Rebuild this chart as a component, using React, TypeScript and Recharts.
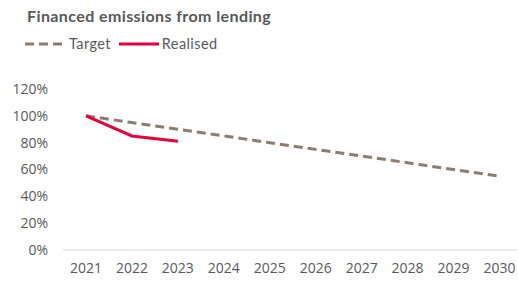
import { LineChart, Line, XAxis, YAxis } from "recharts"

const years = [2021, 2022, 2023, 2024, 2025, 2026, 2027, 2028, 2029, 2030]
const target = [100, 95, 90, 85, 80, 75, 70, 65, 60, 55]
const realised = [100, 85, 81]
const yTicks = [0, 20, 40, 60, 80, 100, 120]

const chartData = years.map((year, i) => ({
  year,
  target: target[i],
  realised: realised[i],
}))

const GREY = "#8b7d74"
const RED = "#e4003a"
const TEXT = "#595959"

export default function App() {
  return (
    <div
      style={{
        position: "absolute",
        left: 0,
        top: 0,
        width: 518,
        height: 282,
        background: "#fff",
        fontFamily: "Lato, sans-serif",
      }}
    >
      <div
        style={{
          position: "absolute",
          left: 27,
          top: 6,
          fontSize: 16,
          fontWeight: 700,
          letterSpacing: 0.4,
          color: TEXT,
          whiteSpace: "nowrap",
        }}
      >
        Financed emissions from lending
      </div>

      <div
        style={{
          position: "absolute",
          left: 25,
          top: 35,
          display: "flex",
          alignItems: "center",
          fontSize: 14.5,
          letterSpacing: 0.4,
          color: TEXT,
          whiteSpace: "nowrap",
        }}
      >
        <svg width={38} height={6}>
          <line x1={0} y1={3} x2={38} y2={3} stroke={GREY} strokeWidth={3} strokeDasharray="9 5" />
        </svg>
        <span style={{ marginLeft: 6 }}>Target</span>
        <svg width={40} height={6} style={{ marginLeft: 8 }}>
          <line x1={0} y1={3} x2={40} y2={3} stroke={RED} strokeWidth={3} />
        </svg>
        <span style={{ marginLeft: 3 }}>Realised</span>
      </div>

      <div style={{ position: "absolute", left: 0, top: 0 }}>
        <LineChart
          width={518}
          height={282}
          data={chartData}
          margin={{ top: 89, right: 1, bottom: 2, left: 0 }}
        >
          <XAxis
            dataKey="year"
            type="number"
            domain={[2020.5, 2030.38]}
            ticks={years}
            allowDataOverflow
            tickLine={false}
            axisLine={{ stroke: "#d9d9d9" }}
            tickSize={0}
            tickMargin={13}
            height={30}
            tick={{ fill: TEXT, fontSize: 14, fontFamily: "Open Sans, sans-serif" }}
          />
          <YAxis
            domain={[0, 120]}
            ticks={yTicks}
            tickFormatter={(v) => `${v}%`}
            axisLine={false}
            tickLine={false}
            tickSize={0}
            tickMargin={15}
            width={63}
            tick={{ fill: TEXT, fontSize: 14, fontFamily: "Open Sans, sans-serif" }}
          />
          <Line
            dataKey="target"
            stroke={GREY}
            strokeWidth={3}
            strokeDasharray="9 5"
            dot={false}
            isAnimationActive={false}
            type="linear"
          />
          <Line
            dataKey="realised"
            stroke={RED}
            strokeWidth={3}
            dot={false}
            isAnimationActive={false}
            type="linear"
          />
        </LineChart>
      </div>
    </div>
  )
}
